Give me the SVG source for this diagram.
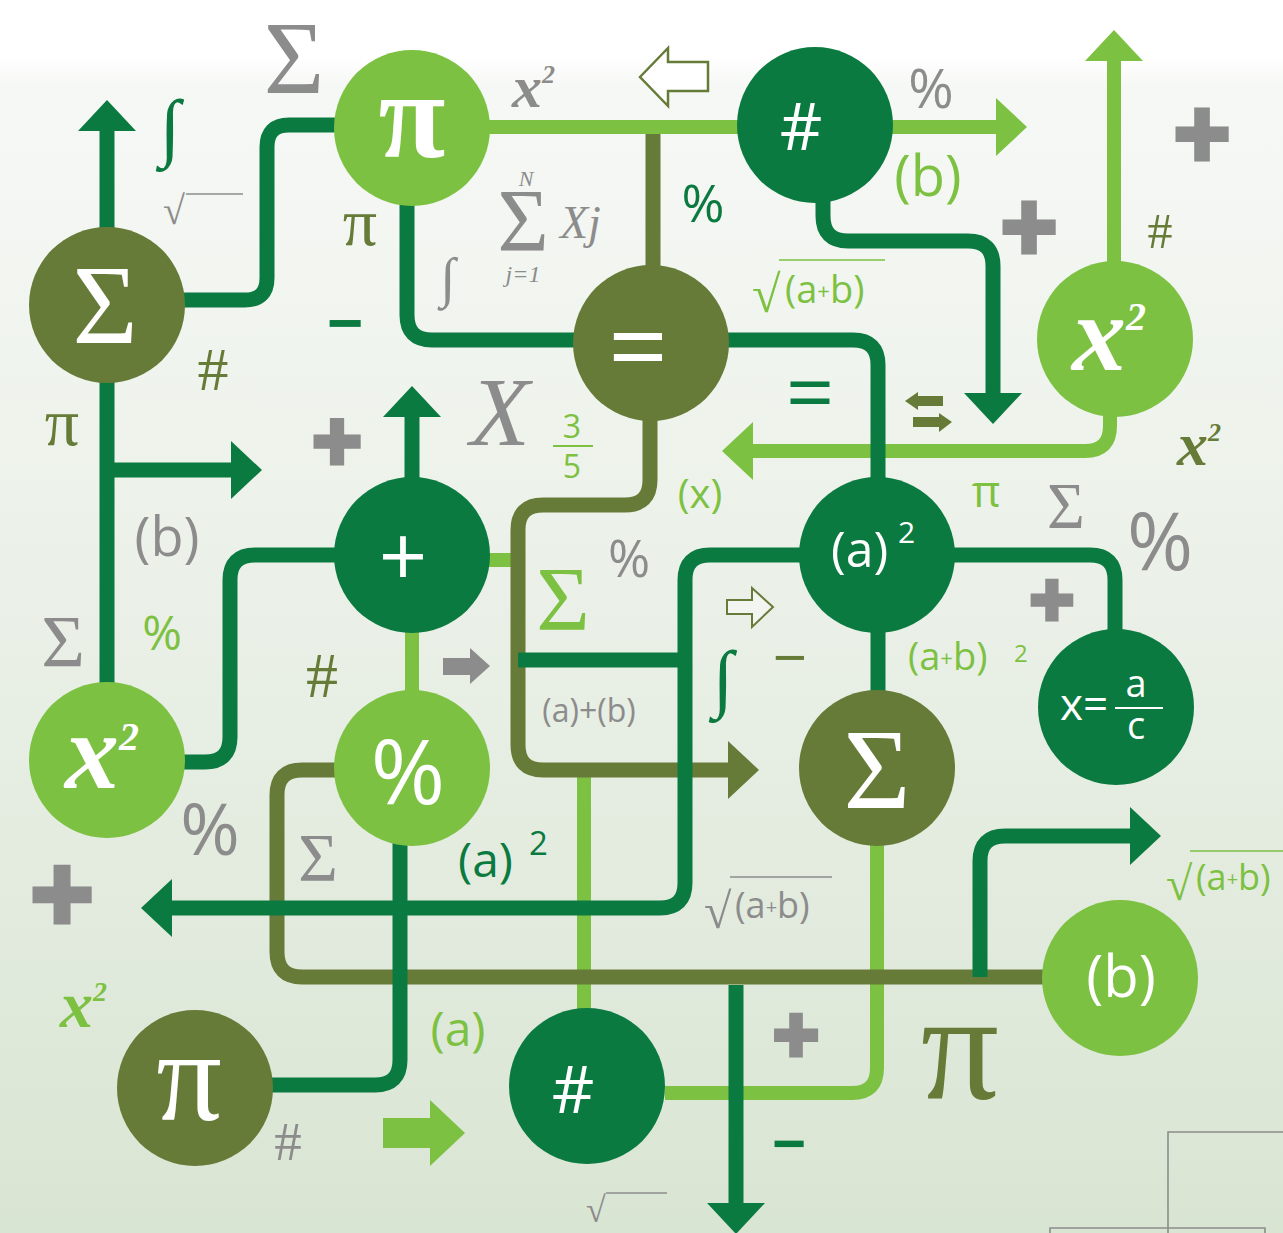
<svg xmlns="http://www.w3.org/2000/svg" width="1283" height="1233" viewBox="0 0 1283 1233">
<defs>
<linearGradient id="bg" x1="0" y1="0" x2="0" y2="1">
<stop offset="0" stop-color="#ffffff"/>
<stop offset="0.045" stop-color="#ffffff"/>
<stop offset="0.07" stop-color="#f6f8f5"/>
<stop offset="0.5" stop-color="#eaf0e7"/>
<stop offset="1" stop-color="#d9e5d3"/>
</linearGradient>
<marker id="mDark" markerUnits="userSpaceOnUse" markerWidth="32" markerHeight="58" viewBox="0 0 32 58" refX="1" refY="29" orient="auto"><path d="M0,0 L31,29 L0,58 z" fill="#0b7a40"/></marker>
<marker id="mLight" markerUnits="userSpaceOnUse" markerWidth="32" markerHeight="58" viewBox="0 0 32 58" refX="1" refY="29" orient="auto"><path d="M0,0 L31,29 L0,58 z" fill="#7dc142"/></marker>
<marker id="mOlive" markerUnits="userSpaceOnUse" markerWidth="32" markerHeight="58" viewBox="0 0 32 58" refX="1" refY="29" orient="auto"><path d="M0,0 L31,29 L0,58 z" fill="#667b37"/></marker>
</defs>
<style>
.c{fill:none;stroke-linejoin:round}
.cd{stroke:#0b7a40;stroke-width:15}
.co{stroke:#667b37;stroke-width:15}
.cl{stroke:#7dc142;stroke-width:14}
.nd{fill:#0b7a40}
.no{fill:#667b37}
.nl{fill:#7dc142}
.serif{font-family:"Liberation Serif","Times New Roman",serif}
.sans{font-family:"Open Sans","Liberation Sans",sans-serif}
.bi{font-family:"Liberation Serif",serif;font-weight:bold;font-style:italic}
.wh{fill:#ffffff}
.g{fill:#8c8c8c}
.dk{fill:#0b7a40}
.ol{fill:#667b37}
.lt{fill:#7dc142}
.m{text-anchor:middle}
.plus{font-family:"Liberation Sans",sans-serif;font-weight:bold;fill:#8c8c8c;stroke:#8c8c8c;stroke-width:5;text-anchor:middle}
.rl{stroke-width:1.6;fill:none}
</style>
<rect x="0" y="0" width="1283" height="1233" fill="url(#bg)"/>

<g id="connectors">
<path class="c cl" d="M489,127 H738"/>
<path class="c cl" d="M892,127 H997" marker-end="url(#mLight)"/>
<path class="c cl" d="M1114,262 V60" marker-end="url(#mLight)"/>
<path class="c cl" d="M1110,412 V426 Q1110,451 1085,451 H752" marker-end="url(#mLight)"/>
<path class="c cl" d="M412,632 V692"/>
<path class="c cl" d="M489,560 H518"/>
<path class="c cl" d="M584,772 V1010"/>
<path class="c cl" d="M665,1093 H852 Q877,1093 877,1068 V845"/>
<path class="c co" d="M653,134 V268"/>
<path class="c co" d="M650,418 V480 Q650,505 625,505 H543 Q518,505 518,530 V745 Q518,770 543,770 H729" marker-end="url(#mOlive)"/>
<path class="c co" d="M335,770 H302 Q277,770 277,795 V952 Q277,977 302,977 H1045"/>
<path class="c cd" d="M107,684 V130" marker-end="url(#mDark)"/>
<path class="c cd" d="M107,470 H232" marker-end="url(#mDark)"/>
<path class="c cd" d="M183,300 H245 Q267,300 267,278 V147 Q267,125 289,125 H337"/>
<path class="c cd" d="M407,203 V315 Q407,340 432,340 H577"/>
<path class="c cd" d="M726,340 H853 Q878,340 878,365 V480"/>
<path class="c cd" d="M878,630 V692"/>
<path class="c cd" d="M823,198 V216 Q823,241 848,241 H968 Q993,241 993,266 V394" marker-end="url(#mDark)"/>
<path class="c cd" d="M953,555 H1090 Q1115,555 1115,580 V632"/>
<path class="c cd" d="M802,555 H710 Q685,555 685,580 V883 Q685,908 660,908 H171" marker-end="url(#mDark)"/>
<path class="c cd" d="M518,660 H685"/>
<path class="c cd" d="M412,480 V416" marker-end="url(#mDark)"/>
<path class="c cd" d="M181,762 H205 Q230,762 230,737 V580 Q230,555 255,555 H337"/>
<path class="c cd" d="M271,1085 H375 Q400,1085 400,1060 V843"/>
<path class="c cd" d="M980,977 V861 Q980,836 1005,836 H1131" marker-end="url(#mDark)"/>
<path class="c cd" d="M736,985 V1204" marker-end="url(#mDark)"/>
</g>

<g id="n-sigma-top"><circle class="no" cx="107" cy="305" r="78"/><text class="serif wh m" x="105" y="343" font-size="112">Σ</text></g>
<g id="n-pi-top"><circle class="nl" cx="412" cy="128" r="78"/><text class="serif wh m" x="412" y="157" font-size="122" font-weight="bold">π</text></g>
<g id="n-hash-top"><circle class="nd" cx="815" cy="125" r="78"/><text class="sans wh m" x="801" y="150" font-size="66">#</text></g>
<g id="n-equals"><circle class="no" cx="651" cy="343" r="78"/><text class="sans wh m" x="638" y="384" font-size="105">=</text></g>
<g id="n-x2-right"><circle class="nl" cx="1115" cy="339" r="78"/><text class="bi wh" x="1072" y="370" font-size="108">x<tspan font-size="40" dy="-40">2</tspan></text></g>
<g id="n-plus"><circle class="nd" cx="412" cy="555" r="78"/><text class="sans wh m" x="403" y="586" font-size="85">+</text></g>
<g id="n-a2"><circle class="nd" cx="877" cy="555" r="78"/><text class="sans wh" x="831" y="567" font-size="50">(a)<tspan x="898" y="543" font-size="30">2</tspan></text></g>
<g id="n-x2-left"><circle class="nl" cx="107" cy="760" r="78"/><text class="bi wh" x="65" y="788" font-size="108">x<tspan font-size="40" dy="-38">2</tspan></text></g>
<g id="n-percent"><circle class="nl" cx="412" cy="768" r="78"/><text class="sans wh m" x="408" y="804" font-size="90">%</text></g>
<g id="n-sigma-mid"><circle class="no" cx="877" cy="768" r="78"/><text class="serif wh m" x="877" y="808" font-size="115">Σ</text></g>
<g id="n-frac"><circle class="nd" cx="1116" cy="707" r="78"/><text class="sans wh" x="1060" y="720" font-size="44">x=</text><text class="sans wh m" x="1136" y="697" font-size="38">a</text><line x1="1115" y1="708" x2="1163" y2="708" stroke="#ffffff" stroke-width="2"/><text class="sans wh m" x="1136" y="739" font-size="38">c</text></g>
<g id="n-b"><circle class="nl" cx="1120" cy="978" r="78"/><text class="sans wh m" x="1121" y="997" font-size="58">(b)</text></g>
<g id="n-pi-bottom"><circle class="no" cx="195" cy="1088" r="78"/><text class="serif wh m" x="189" y="1120" font-size="130">π</text></g>
<g id="n-hash-bottom"><circle class="nd" cx="587" cy="1086" r="78"/><text class="sans wh m" x="573" y="1113" font-size="66">#</text></g>

<g id="decor-arrows">
<polygon points="640,77 668,48 668,62 708,62 708,91 668,91 668,106" fill="#ffffff" stroke="#667b37" stroke-width="2.5"/>
<polygon points="727,600 752,600 752,588 773,607 752,627 752,614 727,614" fill="#f2f5f0" stroke="#667b37" stroke-width="2"/>
<polygon points="443,658 470,658 470,648 490,666 470,684 470,675 443,675" fill="#8c8c8c"/>
<polygon points="383,1118 430,1118 430,1100 465,1133 430,1166 430,1148 383,1148" fill="#7dc142"/>
<polygon points="905,401 918,392 918,396 943,396 943,406 918,406 918,410" fill="#667b37"/>
<polygon points="952,422 939,413 939,417 913,417 913,427 939,427 939,432" fill="#667b37"/>
</g>

<g id="decor-text">
<text class="serif g m" x="294" y="93" font-size="104">Σ</text>
<text class="serif dk m" x="170" y="152" font-size="75">∫</text>
<text class="serif g" x="163" y="224" font-size="40">√</text><line class="rl" x1="186" y1="194" x2="243" y2="194" stroke="#8c8c8c"/>
<text class="serif ol m" x="360" y="245" font-size="68">π</text>
<text class="sans dk m" x="345" y="346" font-size="64" font-weight="bold">−</text>
<text class="serif ol m" x="213" y="390" font-size="62">#</text>
<text class="serif ol m" x="62" y="445" font-size="68">π</text>
<text class="bi g" x="512" y="107" font-size="60">x<tspan font-size="26" dy="-24">2</tspan></text>
<text class="serif g m" x="526" y="186" font-size="22" font-style="italic">N</text>
<text class="serif g m" x="523" y="250" font-size="88">Σ</text>
<text class="serif g" x="560" y="238" font-size="46" font-style="italic">Xj</text>
<text class="serif g m" x="523" y="282" font-size="24" font-style="italic">j=1</text>
<text class="serif g m" x="448" y="296" font-size="55">∫</text>
<text class="sans dk m" x="703" y="222" font-size="52">%</text>
<text class="sans g m" x="931" y="108" font-size="55">%</text>
<text class="sans lt m" x="928" y="196" font-size="56">(b)</text>
<text class="plus" x="1202" y="167" font-size="96">+</text>
<text class="plus" x="1029" y="260" font-size="96">+</text>
<text class="serif ol m" x="1160" y="248" font-size="50">#</text>
<text class="serif lt" x="752" y="312" font-size="52">√</text><text class="sans lt" x="785" y="303" font-size="38">(a<tspan font-size="22" dy="-4">+</tspan><tspan dy="4">b)</tspan></text><line class="rl" x1="779" y1="260" x2="885" y2="260" stroke="#7dc142" stroke-width="2"/>
<text class="sans dk m" x="810" y="423" font-size="85">=</text>
<text class="serif g m" x="500" y="445" font-size="98" font-style="italic">X</text>
<text class="sans lt m" x="572" y="438" font-size="32">3</text><line x1="553" y1="446" x2="593" y2="446" stroke="#7dc142" stroke-width="2"/><text class="sans lt m" x="572" y="478" font-size="32">5</text>
<text class="plus" x="337" y="470" font-size="84">+</text>
<text class="sans lt m" x="700" y="508" font-size="40">(x)</text>
<text class="bi ol" x="1177" y="465" font-size="62">x<tspan font-size="26" dy="-24">2</tspan></text>
<text class="sans lt m" x="986" y="507" font-size="44">π</text>
<text class="serif g m" x="1066" y="528" font-size="65">Σ</text>
<text class="sans g m" x="1160" y="570" font-size="80">%</text>
<text class="sans g m" x="167" y="556" font-size="54">(b)</text>
<text class="serif g m" x="63" y="667" font-size="75">Σ</text>
<text class="sans lt m" x="162" y="650" font-size="48">%</text>
<text class="serif ol m" x="322" y="697" font-size="64">#</text>
<text class="serif lt m" x="563" y="630" font-size="92">Σ</text>
<text class="sans g m" x="629" y="577" font-size="51">%</text>
<text class="serif dk m" x="723" y="703" font-size="75">∫</text>
<text class="sans ol m" x="790" y="679" font-size="60">−</text>
<text class="sans g m" x="589" y="722" font-size="32">(a)+(b)</text>
<text class="plus" x="1052" y="625" font-size="75">+</text>
<text class="sans lt" x="908" y="670" font-size="38">(a<tspan font-size="22" dy="-4">+</tspan><tspan dy="4">b)</tspan><tspan x="1014" y="662" font-size="24">2</tspan></text>
<text class="sans g m" x="210" y="855" font-size="72">%</text>
<text class="serif g m" x="318" y="880" font-size="68">Σ</text>
<text class="plus" x="62" y="930" font-size="108">+</text>
<text class="bi lt" x="60" y="1027" font-size="66">x<tspan font-size="28" dy="-26">2</tspan></text>
<text class="serif g m" x="288" y="1160" font-size="55">#</text>
<text class="sans dk" x="458" y="877" font-size="48">(a)<tspan x="529" y="855" font-size="33">2</tspan></text>
<text class="serif g" x="704" y="928" font-size="50">√</text><text class="sans g" x="735" y="918" font-size="36">(a<tspan font-size="20" dy="-4">+</tspan><tspan dy="4">b)</tspan></text><line class="rl" x1="730" y1="877" x2="832" y2="877" stroke="#8c8c8c"/>
<text class="sans lt m" x="458" y="1046" font-size="48">(a)</text>
<text class="plus" x="796" y="1061" font-size="78">+</text>
<text class="sans dk m" x="789" y="1165" font-size="60" font-weight="bold">−</text>
<text class="serif g" x="586" y="1222" font-size="36">√</text><line class="rl" x1="606" y1="1193" x2="667" y2="1193" stroke="#8c8c8c"/>
<text class="serif lt" x="1166" y="900" font-size="48">√</text><text class="sans lt" x="1196" y="890" font-size="36">(a<tspan font-size="20" dy="-4">+</tspan><tspan dy="4">b)</tspan></text><line class="rl" x1="1190" y1="851" x2="1283" y2="851" stroke="#7dc142"/>
<text class="serif ol m" x="960" y="1098" font-size="155">π</text>
</g>

<g id="corner-lines" stroke="#8c8c8c" stroke-width="1.6" fill="none">
<path d="M1283,1132 H1168 V1233"/>
<path d="M1050,1233 V1228 H1265 V1233"/>
</g>
</svg>
